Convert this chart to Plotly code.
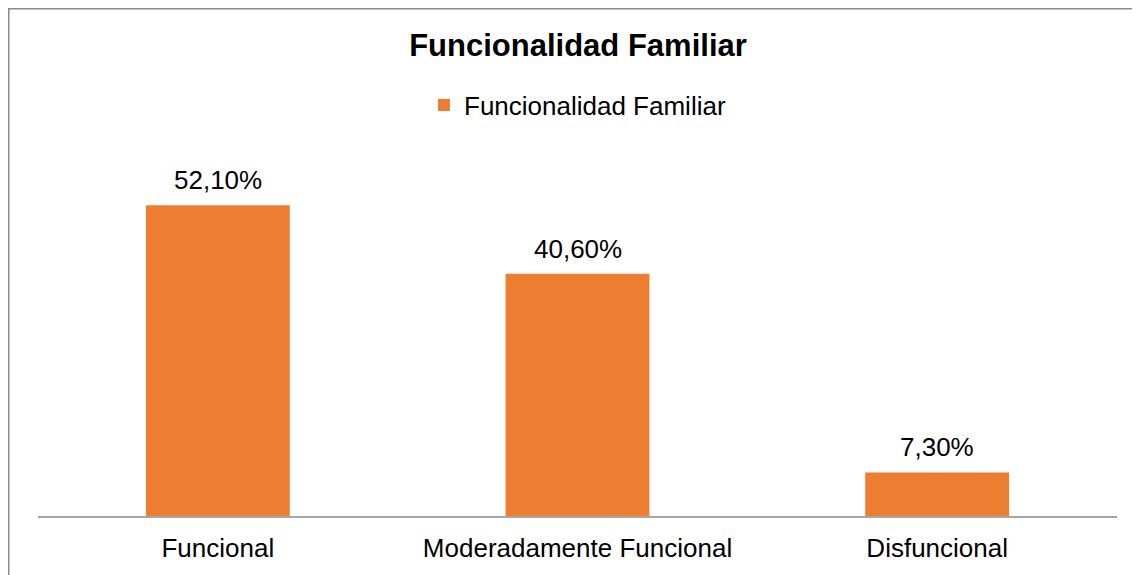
import plotly.graph_objects as go

categories = ["Funcional", "Moderadamente Funcional", "Disfuncional"]
values = [52.1, 40.6, 7.3]
labels = ["52,10%", "40,60%", "7,30%"]
series_name = "Funcionalidad Familiar"
title_text = "Funcionalidad Familiar"

W, H = 1140, 575
OFF = 8  # page body margin
ML, MR, MT, MB = 30, 31, 150, 67
plot_w = W - ML - MR
plot_h = H - MT - MB

def px_x(p):
    return (p - OFF - ML) / plot_w

def px_y(p):
    return (H - MB - (p - OFF)) / plot_h

FONT = "Liberation Sans, Arial, sans-serif"
ORANGE = "#ED7D31"

fig = go.Figure()
fig.add_trace(go.Bar(
    x=categories, y=values, name=series_name,
    marker=dict(color=ORANGE, line=dict(width=0)),
    showlegend=True,
))

for c, v, t in zip(categories, values, labels):
    fig.add_annotation(x=c, y=v, text=t, showarrow=False,
                       xref="x", yref="y", yanchor="middle", yshift=25,
                       font=dict(family=FONT, size=26, color="#000000"))

fig.add_shape(type="rect", xref="paper", yref="paper",
              x0=px_x(8.75), x1=px_x(1200), y0=px_y(700), y1=px_y(8.75),
              line=dict(color="#8a8a8a", width=1.5), fillcolor="rgba(0,0,0,0)",
              layer="below")

fig.update_layout(
    width=W, height=H,
    margin=dict(l=ML, r=MR, t=MT, b=MB, pad=0),
    paper_bgcolor="white", plot_bgcolor="white",
    font=dict(family=FONT, size=26, color="#000000"),
    bargap=0.6,
    title=dict(text="<b>" + title_text + "</b>", x=0.5, xanchor="center",
               y=1 - (45 - OFF) / H, yanchor="middle", yref="container",
               font=dict(family=FONT, size=31, color="#000000")),
    legend=dict(orientation="h", x=0.5, xanchor="center", y=px_y(105),
                yanchor="middle", font=dict(family=FONT, size=26, color="#000000"),
                bgcolor="rgba(0,0,0,0)", itemsizing="constant"),
    xaxis=dict(showline=True, linecolor="#a6a6a6", linewidth=1.5,
               showgrid=False, ticks="", zeroline=False, ticklabelstandoff=8,
               tickfont=dict(family=FONT, size=26, color="#000000")),
    yaxis=dict(range=[0, 60], visible=False, showgrid=False, zeroline=False),
)

fig.write_html("out.html")
